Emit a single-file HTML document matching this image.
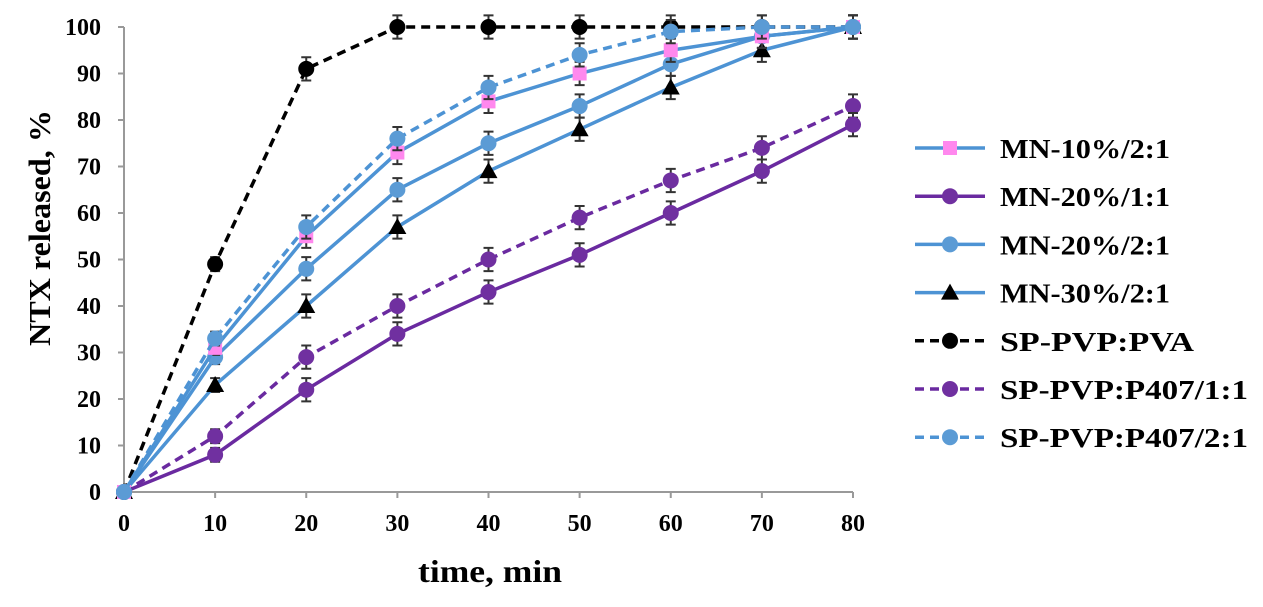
<!DOCTYPE html>
<html><head><meta charset="utf-8"><style>
body{margin:0;background:#fff}
svg text{font-family:"Liberation Serif",serif;font-weight:bold}
</style></head><body>
<svg id="c" width="1263" height="602"></svg>
<script>
const times=[0,10,20,30,40,50,60,70,80];
const yTicks=[0,10,20,30,40,50,60,70,80,90,100];
const sMN10=[0,31,55,73,84,90,95,98,100];
const sMN20a=[0,8,22,34,43,51,60,69,79];
const sMN20b=[0,29,48,65,75,83,92,98,100];
const sMN30=[0,23,40,57,69,78,87,95,100];
const sPVA=[0,49,91,100,100,100,100,100,100];
const sP1=[0,12,29,40,50,59,67,74,83];
const sP2=[0,33,57,76,87,94,99,100,100];
const errBar=[0,1.5,2.5,2.5,2.5,2.5,2.5,2.5,2.5];
const names=["MN-10%/2:1","MN-20%/1:1","MN-20%/2:1","MN-30%/2:1","SP-PVP:PVA","SP-PVP:P407/1:1","SP-PVP:P407/2:1"];
const X=v=>124+v*9.1125, Y=v=>492-v*4.65;
const svg=document.getElementById('c'),NS="http://www.w3.org/2000/svg";
function el(t,a,p){const e=document.createElementNS(NS,t);for(const k in a)e.setAttribute(k,a[k]);(p||svg).appendChild(e);return e;}
let ax=el('line',{x1:X(0),y1:Y(0),x2:X(0),y2:Y(100),stroke:'#999','stroke-width':2});

let bx=el('line',{x1:X(0),y1:Y(0),x2:X(80),y2:Y(0),stroke:'#999','stroke-width':2});

yTicks.forEach(v=>{el('line',{x1:X(0)-6,x2:X(0),y1:Y(v),y2:Y(v),stroke:'#999','stroke-width':2});
const t=el('text',{x:101,y:Y(v)+8,'text-anchor':'end','font-size':24});t.textContent=v;
});
times.forEach(v=>{el('line',{x1:X(v),x2:X(v),y1:Y(0),y2:Y(0)+6,stroke:'#999','stroke-width':2});
const t=el('text',{x:X(v),y:531,'text-anchor':'middle','font-size':24});t.textContent=v;
});
let yt=el('text',{x:0,y:0,'text-anchor':'middle','font-size':31,textLength:236,lengthAdjust:'spacingAndGlyphs',transform:'translate(50,228) rotate(-90)'});yt.textContent='NTX released, %';

let xt=el('text',{x:490,y:582,'text-anchor':'middle','font-size':32,textLength:144,lengthAdjust:'spacingAndGlyphs'});xt.textContent='time, min';

const B='#4d93d4',P='#6a2aa0',K='#000';
const series=[
 {d:sPVA,c:K,dash:'9,6',m:'c',mc:K},
 {d:sP1,c:P,dash:'9,6',m:'c',mc:'#7030a0'},
 {d:sMN20a,c:P,dash:null,m:'c',mc:'#7030a0'},
 {d:sMN30,c:B,dash:null,m:'t',mc:K},
 {d:sMN20b,c:B,dash:null,m:'c',mc:'#5b9bd5'},
 {d:sMN10,c:B,dash:null,m:'s',mc:'#ff88ee'},
 {d:sP2,c:B,dash:'9,6',m:'c',mc:'#5b9bd5'}];
const legIdx=[5,2,4,3,0,1,6];
const legLen=[170,170,170,170,194,248,248];
function marker(m,x,y,c,g){
 if(m==='c')return el('circle',{cx:x,cy:y,r:8,fill:c},g);
 if(m==='s')return el('rect',{x:x-7,y:y-7,width:14,height:14,fill:c},g);
 return el('polygon',{points:`${x},${y-9} ${x-9},${y+7} ${x+9},${y+7}`,fill:c},g);}
series.forEach((s,i)=>{
 const g=el('g',{});
 s.d.forEach((v,j)=>{if(errBar[j]>0){const e=errBar[j];
  el('path',{d:`M${X(times[j])},${Y(v+e)}V${Y(v-e)}M${X(times[j])-5},${Y(v+e)}h10M${X(times[j])-5},${Y(v-e)}h10`,stroke:'#333','stroke-width':2,fill:'none'},g);}});
 const a={points:s.d.map((v,j)=>X(times[j])+','+Y(v)).join(' '),fill:'none',stroke:s.c,'stroke-width':3.5};
 if(s.dash)a['stroke-dasharray']=s.dash;el('polyline',a,g);
 s.d.forEach((v,j)=>{const mk=marker(s.m,X(times[j]),Y(v),s.mc,g);});
});
legIdx.forEach((si,k)=>{const s=series[si],y=148+k*48.2;
 const g=el('g',{});
 const a={x1:915,x2:985,y1:y,y2:y,stroke:s.c,'stroke-width':3.5};if(s.dash)a['stroke-dasharray']=s.dash;el('line',a,g);
 marker(s.m,950,y,s.mc,g);
 const t=el('text',{x:1000,y:y+10,'font-size':27,textLength:legLen[k],lengthAdjust:'spacingAndGlyphs'},g);t.textContent=names[k];});
</script></body></html>
